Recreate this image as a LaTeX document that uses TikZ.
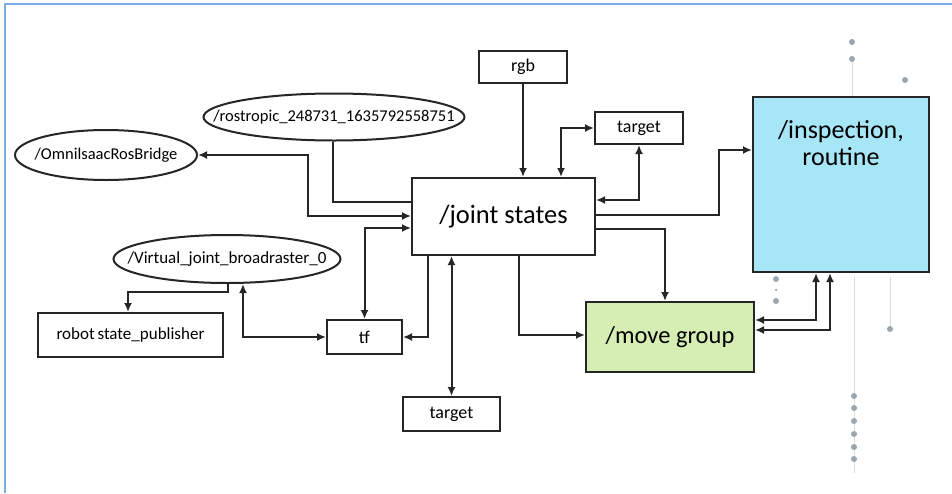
\documentclass[tikz,border=0pt]{standalone}
\usepackage{fontspec}
\setmainfont{Carlito}
\usetikzlibrary{arrows.meta,shapes.geometric}
\definecolor{frameblue}{HTML}{7AADE0}
\definecolor{inspfill}{HTML}{A6E6F6}
\definecolor{movefill}{HTML}{D6EEB4}
\definecolor{dotgray}{HTML}{9AA7AE}
\definecolor{stemgray}{HTML}{D3DDE3}
\tikzset{
  box/.style={draw=black!85, line width=2pt, fill=white, inner sep=0pt,
    font=\fontsize{18}{20}\selectfont},
  % ellipse size is set by minimum width/height; the label is centred in a zero-width box
  oval/.style={ellipse, draw=black!85, line width=2pt, fill=white, inner sep=0pt,
    font=\fontsize{17}{19}\selectfont},
  link/.style={draw=black!85, line width=2pt, -{Latex[length=9pt,width=8pt]}},
  blink/.style={link, {Latex[length=9pt,width=8pt]}-{Latex[length=9pt,width=8pt]}},
  plain/.style={draw=black!85, line width=2pt},
  dot/.style={circle, fill=dotgray, inner sep=0pt, minimum size=6pt},
  stem/.style={draw=stemgray, line width=0.8pt},
}
\newcommand{\ovaltext}[1]{\makebox[0pt]{#1}}
\begin{document}
\begin{tikzpicture}[x=1pt,y=-1pt]
\useasboundingbox (0,0) rectangle (952,493);
\fill[white] (0,0) rectangle (952,493);
% frame
\draw[frameblue, line width=2pt] (5,493) -- (5,4) -- (952,4);

% decorative stems and dots
\draw[stem] (852,59) -- (852,97);
\draw[stem] (854,277) -- (854,473);
\draw[stem] (890,277) -- (890,329);
\foreach \p in {(852,42),(852,59),(905,80),(776,279),(776,301),(890,329),
  (854,396),(854,408),(854,421),(854,434),(854,447),(854,459)}
  \node[dot] at \p {};
\node[dot, minimum size=2.5pt] at (776,290) {};

% nodes
\node[box, minimum width=183pt, minimum height=77pt,
  font=\fontsize{26.5}{28}\selectfont] (js) at (503.5,216.5) {/joint states};
\node[box, minimum width=88pt, minimum height=32pt] (rgb) at (523,67) {rgb};
\node[box, minimum width=88pt, minimum height=32pt] (tgtA) at (639,128) {target};
\node[box, fill=inspfill, minimum width=176pt, minimum height=175pt,
  label={[anchor=north, yshift=-24pt, inner sep=0pt, align=center,
    font=\fontsize{26}{27}\selectfont]north:{/inspection,\\routine}}] (insp) at (841,184.5) {};
\node[box, fill=movefill, minimum width=168pt, minimum height=70pt,
  font=\fontsize{24.5}{26}\selectfont] (mg) at (670,337) {/move group};
\node[box, minimum width=75pt, minimum height=34pt] (tf) at (364.5,337) {tf};
\node[box, minimum width=97pt, minimum height=34pt] (tgtB) at (451.5,414) {target};
\node[box, minimum width=185pt, minimum height=44pt,
  font=\fontsize{17}{19}\selectfont] (rsp) at (130.5,335) {robot\hspace{-1pt} state\_publisher};
\node[oval, minimum width=261pt, minimum height=47pt,
  font=\fontsize{16.5}{18}\selectfont] (ros) at (334,117) {\ovaltext{/rostropic\_248731\_1635792558751}};
\node[oval, minimum width=182pt, minimum height=50pt,
  font=\fontsize{16.5}{18}\selectfont] (omni) at (106,155) {\ovaltext{/OmnilsaacRosBridge}};
\node[oval, minimum width=227pt, minimum height=48pt] (virt) at (227,259) {\ovaltext{/Virtual\_joint\_broadraster\_0}};

% connectors
\draw[plain] (ros.south -| 333,0) |- (js.west |- 0,202);
\draw[blink] (omni.east) -- (308,155) |- (js.west |- 0,216);
\draw[blink] (js.west |- 0,228) -| (tf.north);
\draw[link] (rgb.south) -- (js.north -| rgb.south);
\draw[blink] (js.north -| 561,0) |- (tgtA.west);
\draw[blink] (tgtA.south) |- (js.east |- 0,200);
\draw[link] (js.east |- 0,215) -- (719,215) |- (insp.west |- 0,150);
\draw[link] (js.east |- 0,229) -| (mg.north -| 665,0);
\draw[link] (js.south -| 519,0) |- (mg.west |- 0,335);
\draw[blink] (mg.east |- 0,320) -| (insp.south -| 816,0);
\draw[blink] (mg.east |- 0,330) -| (insp.south -| 830,0);
\draw[link] (js.south -| 428,0) |- (tf.east);
\draw[blink] (tgtB.north) -- (js.south -| tgtB.north);
\draw[link] (virt.south -| 228,0) -- (228,292) -| (rsp.north -| 128,0);
\draw[blink] (virt.south -| 243,0) |- (tf.west);
\end{tikzpicture}
\end{document}
